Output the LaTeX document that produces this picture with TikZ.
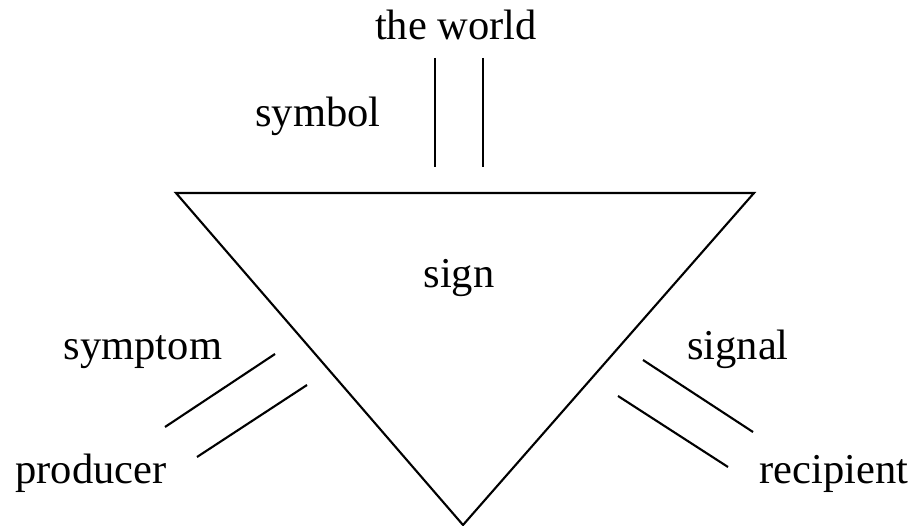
\documentclass[tikz,border=0pt]{standalone}
\usepackage{fontspec}
\setmainfont{Liberation Serif}

\begin{document}
\begin{tikzpicture}[x=0.02cm,y=-0.02cm,line width=1.2pt,
	lbl/.style={anchor=base,inner sep=0pt,font=\fontsize{24.2}{29}\selectfont}]
			\useasboundingbox (0,0) rectangle (919,526);
			
			\coordinate (tl) at (176,193);
			\coordinate (tr) at (754,193);
			\coordinate (bt) at (463,525);
			\draw[line join=miter] (tl) -- (tr) -- (bt) -- cycle;
			
			\node[lbl] (world) at (456,40) {the world};
			\node[lbl] (symbol) at (318,127) {symbol};
			\node[lbl] (sign) at (459,288) {sign};
			\node[lbl] (symptom) at (143,360) {symptom};
			\node[lbl] (producer) at (91,483) {producer};
			\node[lbl] (signal) at (738,360) {signal};
			\node[lbl] (recipient) at (834,483) {recipient};
			
			% the world
			\coordinate (w1a) at (435,58);  \coordinate (w1b) at (435,167);
			\coordinate (w2a) at (483,58);  \coordinate (w2b) at (483,167);
			\draw (w1a) -- (w1b);
			\draw (w2a) -- (w2b);
			
			% producer
			\coordinate (p1a) at (165,427); \coordinate (p1b) at (275,354);
			\coordinate (p2a) at (197,457); \coordinate (p2b) at (307,385);
			\draw (p1a) -- (p1b);
			\draw (p2a) -- (p2b);
			
			% recipient
			\coordinate (r1a) at (643,360); \coordinate (r1b) at (753,432);
			\coordinate (r2a) at (618,396); \coordinate (r2b) at (728,467);
			\draw (r1a) -- (r1b);
			\draw (r2a) -- (r2b);
		\end{tikzpicture}
\end{document}
